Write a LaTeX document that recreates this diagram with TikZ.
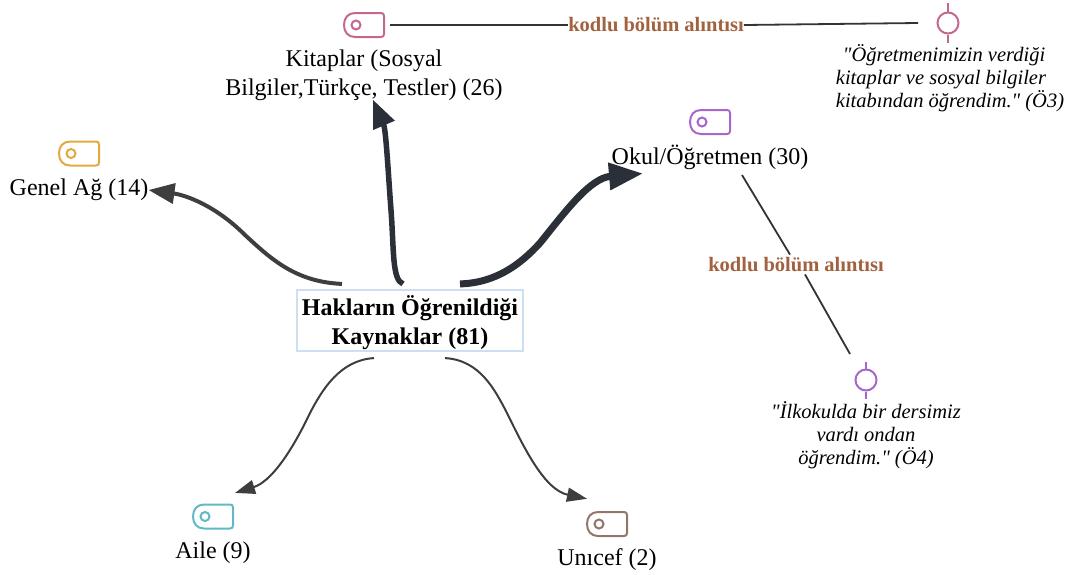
\documentclass[tikz,border=0pt]{standalone}
\usepackage{fontspec}
\setmainfont{Liberation Serif}[Ligatures=TeXOff]
\usetikzlibrary{arrows.meta,calc}
\definecolor{inkdark}{HTML}{2A2F38}
\definecolor{inkgrey}{HTML}{3E3E3E}
\definecolor{inkthin}{HTML}{333333}
\definecolor{labelbrown}{HTML}{A2613F}
\definecolor{hubedge}{HTML}{CFDFF2}
\definecolor{tagpink}{HTML}{C4688F}
\definecolor{tagamber}{HTML}{E2AA3E}
\definecolor{tagviolet}{HTML}{A866CC}
\definecolor{tagteal}{HTML}{5FB9C6}
\definecolor{tagbrown}{HTML}{93766A}
\tikzset{
  x=1pt,y=-1pt,
  plain/.style={font=\fontsize{24}{29}\selectfont,align=center,inner sep=0pt,text=black},
  hubbox/.style={font=\fontsize{24}{29}\selectfont\bfseries,align=center,draw=hubedge,line width=1.2pt,fill=white,minimum width=226pt,minimum height=61pt,inner sep=0pt},
  quotetext/.style={font=\fontsize{20.5}{23}\selectfont\itshape,inner sep=0pt},
  codelabel/.style={font=\fontsize{20.5}{20}\selectfont\bfseries,text=labelbrown,inner sep=0pt,fill=white},
  heavy/.style={draw=inkdark,line width=#1},
  link/.style={draw=inkthin,line width=1.8pt},
  pincircle/.style={circle,draw=#1,line width=2pt,minimum size=21pt,inner sep=0pt},
  pinstem/.style={draw=#1,line width=2pt},
  tag/.pic={
    \draw[#1,line width=2pt] (-9,-12) -- (17,-12) .. controls (19,-12) and (20,-11) .. (20,-9) -- (20,9) .. controls (20,11) and (19,12) .. (17,12) -- (-9,12) .. controls (-16,12) and (-20,7) .. (-20,0) .. controls (-20,-7) and (-16,-12) .. (-9,-12) -- cycle;
    \draw[#1,line width=2pt] (-8,0) circle[radius=4.5];
  }
}
\begin{document}
\begin{tikzpicture}
\useasboundingbox (0,0) rectangle (1077,574);
\node[hubbox] (hub) at (410,320.5) {\rule{0pt}{24pt}Hakların Öğrenildiği\\Kaynaklar (81)};
\node[plain] (kitap) at (364,75) {Kitaplar (Sosyal\\Bilgiler,Türkçe, Testler) (26)};
\node[plain] (genel) at (79,190) {Genel Ağ (14)};
\node[plain] (okul) at (710,157) {Okul/Öğretmen (30)};
\node[plain] (aile) at (213,553) {Aile (9)};
\node[plain] (unicef) at (607,560) {Unıcef (2)};
\pic (tagkitap) at (364,25) {tag=tagpink};
\pic (taggenel) at (79,153.5) {tag=tagamber};
\pic (tagokul) at (710,122) {tag=tagviolet};
\pic (tagaile) at (213,516.5) {tag=tagteal};
\pic (tagunicef) at (607,524) {tag=tagbrown};
\coordinate (tagkitapend) at (390,25);
\coordinate (okulend) at (742,175);
\node[pincircle=tagpink] (pinA) at (948,23) {};
\node[pincircle=tagviolet] (pinB) at (866,380) {};
\coordinate (pinAtop) at (948,3);
\coordinate (pinAbot) at (948,43);
\coordinate (pinBtop) at (866,362);
\coordinate (pinBbot) at (866,399);
\coordinate (pinAleft) at (918,23);
\coordinate (pinBleft) at (850,354);
\draw[pinstem=tagpink] (pinAtop) -- (pinA.north);
\draw[pinstem=tagpink] (pinA.south) -- (pinAbot);
\draw[pinstem=tagviolet] (pinBtop) -- (pinB.north);
\draw[pinstem=tagviolet] (pinB.south) -- (pinBbot);
\node[quotetext,align=left] (quoteA) at (950,78) {\hspace*{7pt}"Öğretmenimizin verdiği\\kitaplar ve sosyal bilgiler\\kitabından öğrendim." (Ö3)};
\node[quotetext,align=center] (quoteB) at (866,435) {"İlkokulda bir dersimiz\\vardı ondan\\öğrendim." (Ö4)};
\node[codelabel] (codeA) at (656,25) {kodlu bölüm alıntısı};
\node[codelabel] (codeB) at (796,265) {kodlu bölüm alıntısı};
\draw[link] (tagkitapend) -- (codeA.west);
\draw[link] (codeA.east) -- (pinAleft);
\draw[link] (okulend) -- ([xshift=-6pt,yshift=3pt]codeB.north);
\draw[link] ([xshift=9pt,yshift=-2pt]codeB.south) -- (pinBleft);
% main arrows
\draw[draw=inkgrey,line width=4pt,-{Triangle[length=26pt,width=20pt,fill=inkgrey]}]
  ([xshift=-68pt,yshift=5.5pt]hub.north) .. controls (295,282) and (270,258) .. (245,235) .. controls (215,205) and (185,195) .. ([yshift=0pt]genel.east);
\draw[heavy=5.5pt,-{Triangle[length=28pt,width=22pt,fill=inkdark]}]
  ([xshift=-7pt,yshift=5.5pt]hub.north) .. controls (392,280) and (394,250) .. (391,210) .. controls (388,170) and (386,130) .. ([xshift=9pt,yshift=1pt]kitap.south);
\draw[heavy=7pt,-{Triangle[length=34pt,width=26pt,fill=inkdark]}]
  ([xshift=50pt,yshift=5.5pt]hub.north) .. controls (495,283) and (520,265) .. (540,243) .. controls (565,212) and (590,178) .. ([xshift=-67pt,yshift=-4pt]okul.south);
\draw[draw=inkgrey,line width=2pt,-{Triangle[length=20pt,width=14pt,fill=inkgrey]}]
  ([xshift=-36pt,yshift=-6.5pt]hub.south) .. controls (340,360) and (322,390) .. (310,413) .. controls (290,455) and (270,482) .. ([xshift=22pt,yshift=49pt]aile.north);
\draw[draw=inkgrey,line width=2pt,-{Triangle[length=20pt,width=14pt,fill=inkgrey]}]
  ([xshift=35pt,yshift=-6.5pt]hub.south) .. controls (480,360) and (495,390) .. (507,413) .. controls (525,450) and (545,490) .. ([xshift=-20pt,yshift=50pt]unicef.north);
\end{tikzpicture}
\end{document}
